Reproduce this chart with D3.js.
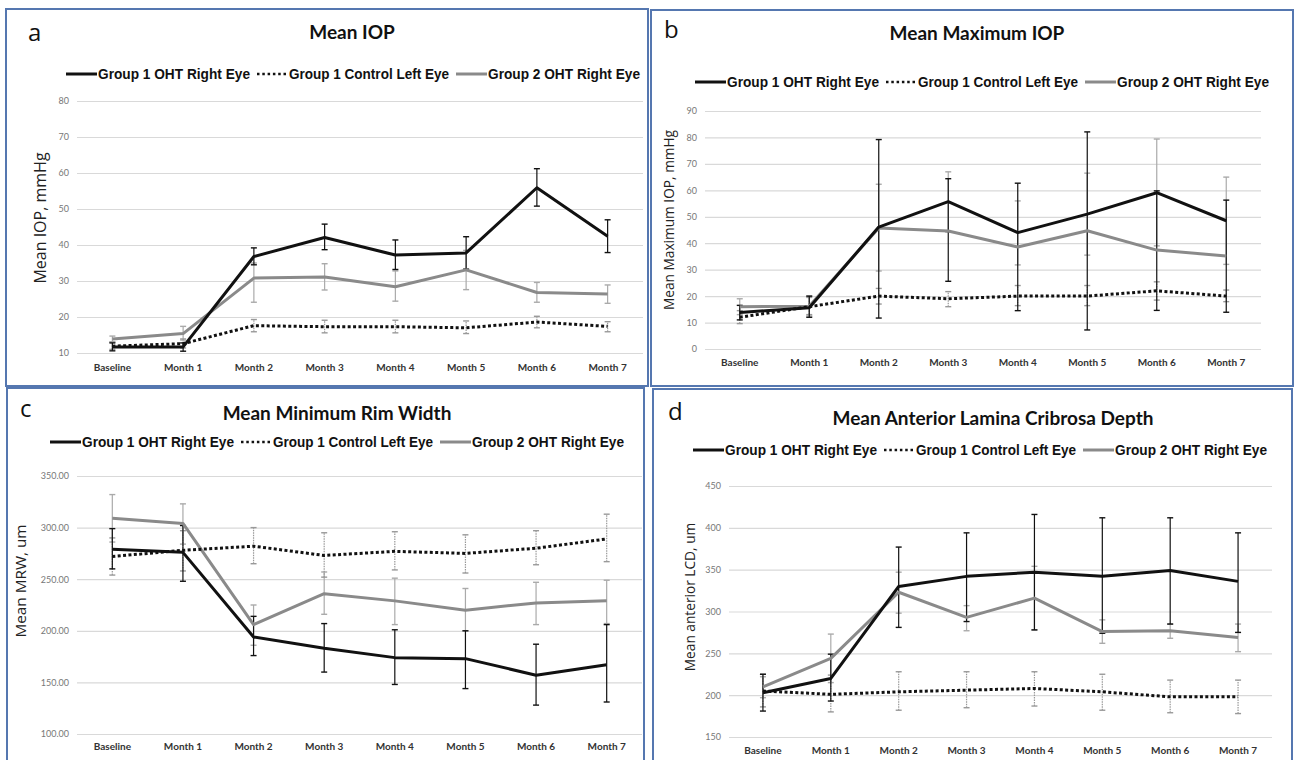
<!DOCTYPE html>
<html>
<head>
<meta charset="utf-8">
<script src="https://cdn.jsdelivr.net/npm/d3@7"></script>
<style>
  body { margin: 0; background: #fff; }
  svg { display: block; }
  .legend text { font-family: 'Liberation Sans', Arial, sans-serif; font-weight: bold; font-size: 14px; fill: #111; }
  .title { font-family: Lato, 'Open Sans', sans-serif; font-weight: bold; font-size: 19px; fill: #111; }
  .letter { font-family: 'Open Sans', sans-serif; font-size: 24px; fill: #111; }
  .ytitle { font-family: 'Open Sans', sans-serif; fill: #222; }
  .yaxis text { font-family: Lato, 'Open Sans', sans-serif; font-size: 9px; fill: #777; }
  .xaxis text { font-family: Lato, 'Open Sans', sans-serif; font-weight: bold; font-size: 10px; fill: #333; }
</style>
</head>
<body>
<svg id="chart" width="1295" height="760"></svg>
<script>
const cats = ['Baseline', 'Month 1', 'Month 2', 'Month 3', 'Month 4', 'Month 5', 'Month 6', 'Month 7'];
const seriesNames = ['Group 1 OHT Right Eye', 'Group 1 Control Left Eye', 'Group 2 OHT Right Eye'];

// a - Mean IOP (mmHg); error bars as [low, high]
const iopG1 = [11.7, 11.7, 36.8, 42.1, 37.2, 37.8, 55.9, 42.4];
const iopG1Bars = [[10.6, 12.8], [10.5, 12.8], [34.5, 39.2], [38.7, 45.8], [33.2, 41.4], [33.3, 42.3], [50.8, 61.2], [37.9, 47.0]];
const iopCtl = [11.9, 12.6, 17.6, 17.3, 17.3, 17.0, 18.6, 17.4];
const iopCtlBars = [[11.0, 13.0], [11.4, 13.9], [15.9, 19.3], [15.6, 19.1], [15.6, 19.1], [15.4, 18.9], [17.0, 20.2], [15.9, 18.7]];
const iopG2 = [13.9, 15.4, 30.8, 31.1, 28.4, 33.1, 26.8, 26.4];
const iopG2Bars = [[13.1, 14.7], [13.6, 17.4], [24.1, 35.0], [27.5, 34.8], [24.4, 32.8], [27.6, 38.5], [24.1, 29.6], [23.8, 28.9]];

// b - Mean Maximum IOP (mmHg)
const maxG1 = [13.8, 15.6, 46.1, 55.7, 44.0, 51.0, 59.1, 48.5];
const maxG1Bars = [[11, 16.5], [12, 20], [11.7, 79.2], [25.6, 64.4], [14.5, 62.7], [7.2, 82.1], [14.6, 59.8], [13.9, 56.3]];
const maxCtl = [12.0, 16.0, 20.0, 19.0, 20.0, 20.0, 22.0, 20.0];
const maxCtlBars = [[9.6, 14.5], [13, 19.5], [17.0, 22.9], [16.0, 21.7], [16.4, 24.0], [16.4, 24.0], [18.5, 25.4], [17.9, 22.3]];
const maxG2 = [16.0, 16.2, 45.8, 44.6, 38.6, 44.7, 37.4, 35.2];
const maxG2Bars = [[13, 19], [12.5, 20], [29.5, 62.3], [44.2, 67.0], [31.8, 56.0], [35.5, 66.5], [39.0, 79.4], [32.0, 65.0]];

// c - Mean Minimum Rim Width (um)
const mrwG1 = [279, 276, 194, 183, 174, 173, 157, 167];
const mrwG1Bars = [[260, 299], [248, 302], [176, 214], [160, 207], [148, 201], [144, 200], [128, 187], [131, 206]];
const mrwCtl = [272, 278, 282, 273, 277, 275, 280, 289];
const mrwCtlBars = [[254, 290], [258, 297], [265, 300], [252, 295], [259, 296], [256, 293], [264, 297], [267, 313]];
const mrwG2 = [309, 304, 206, 236, 229, 220, 227, 229];
const mrwG2Bars = [[286, 332], [284, 323], [186, 225], [216, 257], [206, 251], [200, 241], [206, 247], [207, 249]];

// d - Mean Anterior Lamina Cribrosa Depth (um)
const lcdG1 = [203, 220, 330, 342, 347, 342, 349, 336];
const lcdG1Bars = [[181, 225], [193, 249], [281, 377], [288, 394], [278, 416], [274, 412], [285, 412], [275, 394]];
const lcdCtl = [205, 201, 204, 206, 208, 204, 198, 198];
const lcdCtlBars = [[186, 225], [180, 224], [182, 228], [185, 228], [187, 228], [182, 225], [179, 218], [178, 218]];
const lcdG2 = [210, 244, 323, 293, 316, 276, 277, 269];
const lcdG2Bars = [[197, 222], [215, 273], [298, 347], [277, 307], [278, 354], [262, 290], [268, 285], [252, 285]];

const svg = d3.select('#chart');

const styles = [
  { stroke: '#111', width: 3, dash: null, bar: '#111', barDash: null },
  { stroke: '#111', width: 3, dash: '3 2.4', bar: '#999', barDash: '1.5 1' },
  { stroke: '#8a8a8a', width: 3, dash: null, bar: '#aaa', barDash: null }
];
// legend label widths (px) as printed in the figure
const legendWidths = [152, 160, 152];

const panels = [
  { letter: 'a', title: 'Mean IOP', ytitle: 'Mean IOP, mmHg', ytitleSize: 16,
    box: [6, 9, 642, 377], plot: [77, 643, 101, 353], domain: [10, 80], step: 10, fmt: d3.format('d'),
    letterPos: [28, 41], titleX: 352, titleY: 39, legendY: 74, legendX: 353, xLabelY: 373, ytitleX: 40, ytitleY: 218,
    series: [[iopG1, iopG1Bars], [iopCtl, iopCtlBars], [iopG2, iopG2Bars]] },
  { letter: 'b', title: 'Mean Maximum IOP', ytitle: 'Mean Maximum IOP, mmHg', ytitleSize: 13.7,
    box: [651, 10, 642, 376], plot: [705, 1261, 111, 349], domain: [0, 90], step: 10, fmt: d3.format('d'),
    letterPos: [664, 38], titleX: 977, titleY: 40, legendY: 82, legendX: 982, xLabelY: 368, ytitleX: 669, ytitleY: 220,
    series: [[maxG1, maxG1Bars], [maxCtl, maxCtlBars], [maxG2, maxG2Bars]] },
  { letter: 'c', title: 'Mean Minimum Rim Width', ytitle: 'Mean MRW, um', ytitleSize: 15.3,
    box: [7, 388, 637, 380], plot: [77, 642, 476, 734], domain: [100, 350], step: 50, fmt: d3.format('.2f'),
    letterPos: [20, 417], titleX: 337, titleY: 420, legendY: 442, legendX: 337, xLabelY: 752, ytitleX: 21, ytitleY: 581,
    series: [[mrwG1, mrwG1Bars], [mrwCtl, mrwCtlBars], [mrwG2, mrwG2Bars]] },
  { letter: 'd', title: 'Mean Anterior Lamina Cribrosa Depth', ytitle: 'Mean anterior LCD, um', ytitleSize: 13.7,
    box: [653, 389, 639, 380], plot: [729, 1272, 486, 737], domain: [150, 450], step: 50, fmt: d3.format('d'),
    letterPos: [668, 420], titleX: 993, titleY: 425, legendY: 450, legendX: 980, xLabelY: 756, ytitleX: 690, ytitleY: 597,
    series: [[lcdG1, lcdG1Bars], [lcdCtl, lcdCtlBars], [lcdG2, lcdG2Bars]] }
];

panels.forEach(function(p) {
  const g = svg.append('g');
  const [left, right, top, bottom] = p.plot;

  g.append('rect')
      .attr('x', p.box[0]).attr('y', p.box[1])
      .attr('width', p.box[2]).attr('height', p.box[3])
      .attr('fill', '#fff')
      .attr('stroke', '#5577b0')
      .attr('stroke-width', 2);

  g.append('text').attr('class', 'letter')
      .attr('x', p.letterPos[0]).attr('y', p.letterPos[1])
      .text(p.letter);
  g.append('text').attr('class', 'title')
      .attr('x', p.titleX).attr('y', p.titleY)
      .attr('text-anchor', 'middle')
      .text(p.title);

  const x = d3.scaleBand().domain(cats).range([left, right]).padding(0);
  const y = d3.scaleLinear().domain(p.domain).range([bottom, top]);
  const cx = function(i) { return x(cats[i]) + x.bandwidth() / 2; };

  // gridlines + y labels
  const yAxis = g.append('g')
      .attr('class', 'yaxis')
      .attr('transform', 'translate(' + left + ',0)')
      .call(d3.axisLeft(y)
        .tickValues(d3.range(p.domain[0], p.domain[1] + 0.001, p.step))
        .tickSize(-(right - left))
        .tickPadding(8)
        .tickFormat(p.fmt));
  yAxis.select('.domain').remove();
  yAxis.selectAll('line').attr('stroke', '#d9d9d9').attr('stroke-width', 1.2);

  const xAxis = g.append('g')
      .attr('class', 'xaxis')
      .attr('transform', 'translate(0,' + (p.xLabelY - 10) + ')')
      .call(d3.axisBottom(x).tickSize(0).tickPadding(0));
  xAxis.select('.domain').remove();
  xAxis.selectAll('text').attr('dy', '0.75em');

  g.append('text').attr('class', 'ytitle')
      .attr('transform', 'translate(' + p.ytitleX + ',' + p.ytitleY + ') rotate(-90)')
      .attr('text-anchor', 'middle')
      .attr('dy', '0.35em')
      .style('font-size', p.ytitleSize + 'px')
      .text(p.ytitle);

  // error bars (drawn under lines)
  [2, 1, 0].forEach(function(si) {
    const st = styles[si];
    const bars = p.series[si][1];
    const eg = g.append('g');
    bars.forEach(function(b, i) {
      const px = cx(i);
      eg.append('line')
          .attr('x1', px).attr('x2', px)
          .attr('y1', y(b[0])).attr('y2', y(b[1]))
          .attr('stroke', st.bar).attr('stroke-width', 1.2)
          .attr('stroke-dasharray', st.barDash);
      b.forEach(function(v) {
        eg.append('line')
            .attr('x1', px - 3).attr('x2', px + 3)
            .attr('y1', y(v)).attr('y2', y(v))
            .attr('stroke', st.bar).attr('stroke-width', 1.4);
      });
    });
  });

  // lines
  const line = d3.line()
      .x(function(d, i) { return cx(i); })
      .y(function(d) { return y(d); });
  [2, 1, 0].forEach(function(si) {
    const st = styles[si];
    g.append('path')
        .datum(p.series[si][0])
        .attr('d', line)
        .attr('fill', 'none')
        .attr('stroke', st.stroke)
        .attr('stroke-width', st.width)
        .attr('stroke-linejoin', 'round')
        .attr('stroke-dasharray', st.dash);
  });

  // legend, centred on legendX
  const lg = g.append('g').attr('class', 'legend');
  const items = seriesNames.map(function(name, si) {
    const it = lg.append('g');
    it.append('line')
        .attr('x1', 0).attr('x2', 31)
        .attr('y1', 0).attr('y2', 0)
        .attr('stroke', styles[si].stroke)
        .attr('stroke-width', si === 1 ? 2.5 : 3)
        .attr('stroke-dasharray', si === 1 ? '2.5 2.8' : null);
    it.append('text')
        .attr('x', 32).attr('dy', '0.36em')
        .attr('textLength', legendWidths[si])
        .attr('lengthAdjust', 'spacingAndGlyphs')
        .text(name);
    return { g: it, w: 32 + legendWidths[si] };
  });
  const gap = 7;
  const total = d3.sum(items, function(d) { return d.w; }) + gap * (items.length - 1);
  let pos = p.legendX - total / 2;
  items.forEach(function(it) {
    it.g.attr('transform', 'translate(' + pos + ',' + p.legendY + ')');
    pos += it.w + gap;
  });
});
</script>
</body>
</html>
